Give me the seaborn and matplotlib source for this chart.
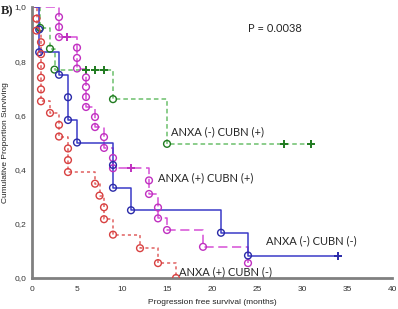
import numpy as np
import pandas as pd
import matplotlib
matplotlib.use('Agg')
import matplotlib.pyplot as plt
import seaborn as sns

# survival curves (event times in months, survival after each event)
blue_t = [0.8, 0.8, 3, 4, 4, 5, 9, 9, 11, 21, 24]
blue_s = [0.917, 0.833, 0.75, 0.667, 0.583, 0.5, 0.417, 0.333, 0.25, 0.167, 0.083]
blue_cens_t = [34]
blue_cens_s = [0.083]

red_t = [0.5, 0.5, 1, 1, 1, 1, 1, 1, 2, 3, 3, 4, 4, 4, 7, 7.5, 8, 8, 9, 12, 14, 16]
red_s = [0.957, 0.913, 0.870, 0.826, 0.783, 0.739, 0.696, 0.652, 0.609, 0.565, 0.522,
         0.478, 0.435, 0.391, 0.348, 0.304, 0.261, 0.217, 0.16, 0.11, 0.055, 0.0]
red_cens_t = []
red_cens_s = []

green_t = [0.9, 2, 2.5, 9, 15]
green_s = [0.923, 0.846, 0.769, 0.66, 0.495]
green_cens_t = [6, 7, 8, 28, 31]
green_cens_s = [0.769, 0.769, 0.769, 0.495, 0.495]

pink_t = [3, 3, 3, 5, 5, 5, 6, 6, 6, 6, 7, 7, 8, 8, 9, 9, 13, 13, 14, 14, 15, 19, 24]
pink_s = [0.963, 0.926, 0.889, 0.850, 0.812, 0.773, 0.74, 0.705, 0.668, 0.631, 0.594, 0.557,
          0.52, 0.48, 0.443, 0.405, 0.36, 0.31, 0.26, 0.22, 0.177, 0.115, 0.055]
pink_cens_t = [3.9, 11]
pink_cens_s = [0.889, 0.405]

group_labels = ['ANXA (-) CUBN (+)', 'ANXA (+) CUBN (+)', 'ANXA (-) CUBN (-)', 'ANXA (+) CUBN (-)']
label_pos = [(15.4, 0.539), (14.0, 0.369), (26.0, 0.137), (16.3, 0.022)]
p_text = 'P = 0.0038'

sns.set_style('white')
plt.rcParams['font.family'] = ['Liberation Sans', 'DejaVu Sans']

fig = plt.figure(figsize=(3.98, 3.09), dpi=100)
ax = fig.add_axes([32 / 398, 1 - 278 / 309, 360 / 398, 271 / 309])

groups = [
    (green_t, green_s, green_cens_t, green_cens_s, '#6cc06c', '#1f7a1f', (0, (3, 2))),
    (pink_t, pink_s, pink_cens_t, pink_cens_s, '#d64fd6', '#c030c0', (0, (6, 3))),
    (blue_t, blue_s, blue_cens_t, blue_cens_s, '#3a3ac8', '#2a2aa8', '-'),
    (red_t, red_s, red_cens_t, red_cens_s, '#e06060', '#d84040', (0, (2, 2))),
]

for ev_t, ev_s, c_t, c_s, lc, mc, ls in groups:
    t = np.array([0] + ev_t + c_t, dtype=float)
    s = np.array([1.0] + ev_s + c_s, dtype=float)
    order = np.argsort(t, kind='stable')
    df = pd.DataFrame({'t': t[order], 's': s[order]})
    sns.lineplot(data=df, x='t', y='s', estimator=None, sort=False, drawstyle='steps-post',
                 color=lc, linestyle=ls, linewidth=1.1, ax=ax)
    sns.scatterplot(x=ev_t, y=ev_s, marker='o', s=24, facecolor='none', edgecolor=mc,
                    linewidth=1.0, ax=ax, zorder=3)
    if c_t:
        sns.scatterplot(x=c_t, y=c_s, marker='+', s=28, color=mc, linewidth=1.4, ax=ax, zorder=3)

for lab, (x, y) in zip(group_labels, label_pos):
    ax.text(x, y, lab, ha='left', va='center', fontsize=8, family=['Lato', 'DejaVu Sans'])
ax.text(24.0, 0.922, p_text, ha='left', va='center', fontsize=8, family=['Lato', 'DejaVu Sans'])

ax.set_xlim(0, 40)
ax.set_ylim(0, 1.0)
ax.set_xticks(range(0, 41, 5))
ax.set_yticks([0, 0.2, 0.4, 0.6, 0.8, 1.0])
ax.set_yticklabels(['0,0', '0,2', '0,4', '0,6', '0,8', '1,0'])
ax.tick_params(direction='in', length=3, width=1, colors='#606060', labelsize=6)
ax.tick_params(axis='x', pad=6)
ax.tick_params(axis='y', pad=4)
ax.tick_params(labelcolor='#333333')
ax.set_xlabel('Progression free survival (months)', fontsize=6, labelpad=4, color='#222222')
ax.set_ylabel('Cumulative Proportion Surviving', fontsize=6, labelpad=4, color='#222222')
sns.despine(ax=ax)
for side in ['left', 'bottom']:
    ax.spines[side].set_color('#808080')
    ax.spines[side].set_linewidth(2)

fig.text(1 / 398, 1 - 11 / 309, 'B)', fontsize=9, fontweight='bold', family='Liberation Serif',
         va='center', ha='left')

fig.savefig('out.png', dpi=100)
